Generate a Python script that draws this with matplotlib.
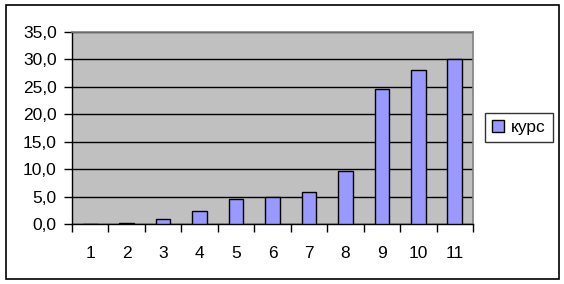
import numpy as np
import matplotlib.pyplot as plt
from matplotlib.patches import Rectangle

plt.rcParams['font.family'] = ['Liberation Sans', 'DejaVu Sans']

categories = ['1', '2', '3', '4', '5', '6', '7', '8', '9', '10', '11']
kurs = [0.0, 0.2, 0.85, 2.3, 4.5, 5.0, 5.75, 9.6, 24.6, 28.1, 30.0]
y_ticks = [0, 5, 10, 15, 20, 25, 30, 35]


def draw():
    fig = plt.figure(figsize=(5.64, 2.84), dpi=100)
    W, H = 564, 284
    fs = 12.5

    # outer chart border
    fig.patches.append(Rectangle((5.5 / W, 1 - 279 / H), 553 / W, 274 / H,
                                 transform=fig.transFigure, fill=False,
                                 edgecolor='black', linewidth=1.2))

    ax = fig.add_axes([72 / W, 1 - 224 / H, 401 / W, 192 / H])
    ax.set_facecolor('#c0c0c0')

    x = np.arange(len(categories))
    bars = ax.bar(x, kurs, width=0.4, color='#9999ff', edgecolor='black',
                  linewidth=1.0, zorder=3, label='курс')

    ax.set_xlim(-0.5, len(categories) - 0.5)
    ax.set_ylim(0, 35)
    ax.set_yticks(y_ticks)
    ax.set_yticklabels([('%.1f' % v).replace('.', ',') for v in y_ticks],
                       fontsize=fs)
    ax.yaxis.grid(True, color='black', linewidth=1.0, zorder=1)
    ax.set_axisbelow(True)

    # ticks between categories, labels centred on bars
    ax.set_xticks(np.arange(-0.5, len(categories)))
    ax.set_xticklabels([])
    ax.set_xticks(x, minor=True)
    ax.set_xticklabels(categories, minor=True, fontsize=fs)
    ax.tick_params(axis='x', which='major', direction='out', length=5.5, width=1)
    ax.tick_params(axis='x', which='minor', length=0, pad=16)
    ax.tick_params(axis='y', direction='out', length=6, width=1, pad=5)

    for s in ['top', 'right']:
        ax.spines[s].set_color('#808080')
        ax.spines[s].set_linewidth(1.2)
    for s in ['left', 'bottom']:
        ax.spines[s].set_color('black')
        ax.spines[s].set_linewidth(1.0)

    leg = fig.legend(handles=[bars], labels=['курс'],
                     loc='center', bbox_to_anchor=(519 / W, 1 - 127.5 / H),
                     fontsize=fs, frameon=True, fancybox=False,
                     handlelength=0.7, handleheight=0.7, handletextpad=0.4,
                     borderpad=0.4, borderaxespad=0)
    leg.get_frame().set_edgecolor('black')
    leg.get_frame().set_linewidth(1.0)

    fig.savefig('out.png', dpi=100)


def main():
    draw()


if __name__ == '__main__':
    main()
